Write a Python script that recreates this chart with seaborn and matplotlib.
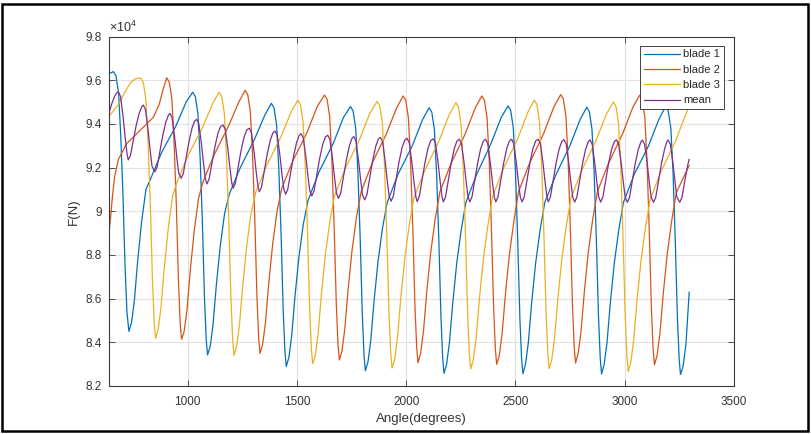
import matplotlib
matplotlib.use("Agg")
import matplotlib.pyplot as plt
import pandas as pd
import seaborn as sns
from matplotlib.patches import Rectangle
from matplotlib.ticker import FormatStrFormatter

# Rotor blade loads (x 1e4 N) against rotor angle in degrees
blade1_angle = [640, 660, 672, 684, 694, 704, 713, 722,
    731, 743, 756, 771, 789, 809, 831, 881, 946, 993, 1023, 1035, 1047, 1057, 1067, 1077, 1085,
    1091, 1103, 1116, 1131, 1149, 1169, 1191, 1241, 1306, 1353, 1383, 1395, 1407, 1417, 1427, 1437, 1445,
    1451, 1463, 1476, 1491, 1509, 1529, 1551, 1601, 1666, 1713, 1745, 1757, 1769, 1779, 1789, 1799, 1807,
    1813, 1825, 1838, 1853, 1871, 1891, 1913, 1963, 2028, 2075, 2105, 2117, 2129, 2139, 2149, 2159, 2167,
    2173, 2185, 2198, 2213, 2231, 2251, 2273, 2323, 2388, 2435, 2466, 2478, 2490, 2500, 2510, 2520, 2528,
    2534, 2546, 2559, 2574, 2592, 2612, 2634, 2684, 2749, 2796, 2826, 2838, 2850, 2860, 2870, 2880, 2888,
    2894, 2906, 2919, 2934, 2952, 2972, 2994, 3044, 3109, 3156, 3187, 3199, 3211, 3221, 3231, 3241, 3249,
    3255, 3267, 3280, 3295]
blade1_force = [9.630, 9.639, 9.62, 9.54, 9.34, 9.07, 8.76, 8.54,
    8.45, 8.49, 8.59, 8.77, 8.95, 9.10, 9.15, 9.27, 9.39, 9.50, 9.545, 9.525, 9.445, 9.245, 8.96, 8.60, 8.41,
    8.342, 8.38, 8.48, 8.66, 8.84, 8.99, 9.08, 9.20, 9.33, 9.44, 9.494, 9.474, 9.394, 9.194, 8.91, 8.55, 8.36,
    8.289, 8.33, 8.43, 8.61, 8.79, 8.94, 9.05, 9.18, 9.31, 9.43, 9.479, 9.459, 9.379, 9.179, 8.89, 8.53, 8.34,
    8.27, 8.31, 8.41, 8.59, 8.77, 8.92, 9.04, 9.17, 9.30, 9.42, 9.474, 9.454, 9.374, 9.174, 8.878, 8.518, 8.328,
    8.258, 8.30, 8.40, 8.58, 8.76, 8.91, 9.04, 9.17, 9.31, 9.43, 9.482, 9.462, 9.382, 9.182, 8.876, 8.516, 8.326,
    8.256, 8.30, 8.40, 8.58, 8.76, 8.91, 9.04, 9.165, 9.30, 9.42, 9.476, 9.456, 9.376, 9.176, 8.875, 8.515, 8.325,
    8.255, 8.30, 8.40, 8.58, 8.76, 8.91, 9.04, 9.17, 9.30, 9.42, 9.48, 9.46, 9.38, 9.18, 8.873, 8.513, 8.323,
    8.253, 8.29, 8.39, 8.63]

blade2_angle = [640, 648, 656, 666, 682, 721, 782, 843, 870, 888, 904, 916, 928, 938, 948, 958, 966,
    972, 984, 997, 1012, 1030, 1050, 1072, 1122, 1187, 1234, 1263, 1275, 1287, 1297, 1307, 1317, 1325,
    1331, 1343, 1356, 1371, 1389, 1409, 1431, 1481, 1546, 1593, 1626, 1638, 1650, 1660, 1670, 1680, 1688,
    1694, 1706, 1719, 1734, 1752, 1772, 1794, 1844, 1909, 1956, 1986, 1998, 2010, 2020, 2030, 2040, 2048,
    2054, 2066, 2079, 2094, 2112, 2132, 2154, 2204, 2269, 2316, 2346, 2358, 2370, 2380, 2390, 2400, 2408,
    2414, 2426, 2439, 2454, 2472, 2492, 2514, 2564, 2629, 2676, 2707, 2719, 2731, 2741, 2751, 2761, 2769,
    2775, 2787, 2800, 2815, 2833, 2853, 2875, 2925, 2990, 3037, 3068, 3080, 3092, 3102, 3112, 3122, 3130,
    3136, 3148, 3161, 3176, 3194, 3214, 3236, 3295]
blade2_force = [8.90, 8.98, 9.07, 9.16, 9.235, 9.31, 9.37, 9.43, 9.49, 9.56, 9.611, 9.591, 9.511, 9.311, 9.034, 8.674, 8.484,
    8.414, 8.45, 8.55, 8.73, 8.91, 9.06, 9.14, 9.26, 9.39, 9.50, 9.554, 9.534, 9.454, 9.254, 8.969, 8.609, 8.419,
    8.349, 8.39, 8.49, 8.67, 8.85, 9.00, 9.106, 9.23, 9.36, 9.48, 9.532, 9.512, 9.432, 9.232, 8.939, 8.579, 8.389,
    8.319, 8.36, 8.46, 8.64, 8.82, 8.97, 9.09, 9.22, 9.354, 9.473, 9.528, 9.508, 9.428, 9.228, 8.926, 8.566, 8.376,
    8.306, 8.35, 8.45, 8.63, 8.81, 8.96, 9.088, 9.216, 9.352, 9.473, 9.528, 9.508, 9.428, 9.228, 8.919, 8.559, 8.369,
    8.299, 8.34, 8.44, 8.62, 8.80, 8.95, 9.089, 9.219, 9.356, 9.478, 9.534, 9.514, 9.434, 9.234, 8.925, 8.565, 8.375,
    8.305, 8.35, 8.45, 8.63, 8.81, 8.96, 9.09, 9.218, 9.354, 9.476, 9.531, 9.511, 9.431, 9.231, 8.917, 8.557, 8.367,
    8.297, 8.34, 8.44, 8.62, 8.80, 8.95, 9.085, 9.21]

blade3_angle = [640, 665, 690, 715, 740, 762, 785, 797, 809, 819, 829, 839, 847,
    853, 865, 878, 893, 911, 931, 953, 1003, 1068, 1115, 1144, 1156, 1168, 1178, 1188, 1198, 1206,
    1212, 1224, 1237, 1252, 1270, 1290, 1312, 1362, 1427, 1474, 1504, 1516, 1528, 1538, 1548, 1558, 1566,
    1572, 1584, 1597, 1612, 1630, 1650, 1672, 1722, 1787, 1834, 1867, 1879, 1891, 1901, 1911, 1921, 1929,
    1935, 1947, 1960, 1975, 1993, 2013, 2035, 2085, 2150, 2197, 2227, 2239, 2251, 2261, 2271, 2281, 2289,
    2295, 2307, 2320, 2335, 2353, 2373, 2395, 2445, 2510, 2557, 2586, 2598, 2610, 2620, 2630, 2640, 2648,
    2654, 2666, 2679, 2694, 2712, 2732, 2754, 2804, 2869, 2916, 2948, 2960, 2972, 2982, 2992, 3002, 3010,
    3016, 3028, 3041, 3056, 3074, 3094, 3116, 3166, 3231, 3278, 3295]
blade3_force = [9.435, 9.465, 9.50, 9.55, 9.59, 9.607, 9.61, 9.59, 9.51, 9.31, 9.038, 8.678, 8.488,
    8.418, 8.46, 8.56, 8.74, 8.92, 9.07, 9.139, 9.258, 9.383, 9.494, 9.545, 9.525, 9.445, 9.245, 8.96, 8.60, 8.41,
    8.34, 8.38, 8.48, 8.66, 8.84, 8.99, 9.088, 9.211, 9.341, 9.456, 9.509, 9.489, 9.409, 9.209, 8.922, 8.562, 8.372,
    8.302, 8.34, 8.44, 8.62, 8.80, 8.95, 9.071, 9.197, 9.33, 9.449, 9.503, 9.483, 9.403, 9.203, 8.902, 8.542, 8.352,
    8.282, 8.32, 8.42, 8.60, 8.78, 8.93, 9.06, 9.187, 9.322, 9.442, 9.497, 9.477, 9.397, 9.197, 8.898, 8.538, 8.348,
    8.278, 8.32, 8.42, 8.60, 8.78, 8.93, 9.066, 9.195, 9.332, 9.454, 9.509, 9.489, 9.409, 9.209, 8.899, 8.539, 8.349,
    8.279, 8.32, 8.42, 8.60, 8.78, 8.93, 9.06, 9.189, 9.324, 9.445, 9.50, 9.48, 9.40, 9.20, 8.886, 8.526, 8.336,
    8.266, 8.31, 8.41, 8.59, 8.77, 8.92, 9.053, 9.182, 9.318, 9.44, 9.48]

mean_angle = [640, 652, 665, 675, 683, 693, 705, 715, 723,
    728, 738, 750, 764, 778, 790, 797, 807, 819, 829, 837,
    850, 860, 872, 886, 900, 912, 919, 929, 941, 951, 959,
    970, 980, 992, 1006, 1020, 1032, 1041, 1051, 1063, 1073, 1081,
    1088, 1098, 1110, 1124, 1138, 1150, 1162, 1172, 1184, 1194, 1202,
    1208, 1218, 1230, 1244, 1258, 1270, 1282, 1292, 1304, 1314, 1322,
    1328, 1338, 1350, 1364, 1378, 1390, 1400, 1410, 1422, 1432, 1440,
    1448, 1458, 1470, 1484, 1498, 1510, 1519, 1529, 1541, 1551, 1559,
    1568, 1578, 1590, 1604, 1618, 1630, 1641, 1651, 1663, 1673, 1681,
    1690, 1700, 1712, 1726, 1740, 1752, 1760, 1770, 1782, 1792, 1800,
    1810, 1820, 1832, 1846, 1860, 1872, 1882, 1892, 1904, 1914, 1922,
    1931, 1941, 1953, 1967, 1981, 1993, 2004, 2014, 2026, 2036, 2044,
    2050, 2060, 2072, 2086, 2100, 2112, 2124, 2134, 2146, 2156, 2164,
    2170, 2180, 2192, 2206, 2220, 2232, 2243, 2253, 2265, 2275, 2283,
    2291, 2301, 2313, 2327, 2341, 2353, 2363, 2373, 2385, 2395, 2403,
    2410, 2420, 2432, 2446, 2460, 2472, 2482, 2492, 2504, 2514, 2522,
    2530, 2540, 2552, 2566, 2580, 2592, 2604, 2614, 2626, 2636, 2644,
    2650, 2660, 2672, 2686, 2700, 2712, 2722, 2732, 2744, 2754, 2762,
    2771, 2781, 2793, 2807, 2821, 2833, 2841, 2851, 2863, 2873, 2881,
    2890, 2900, 2912, 2926, 2940, 2952, 2962, 2972, 2984, 2994, 3002,
    3012, 3022, 3034, 3048, 3062, 3074, 3081, 3091, 3103, 3113, 3121,
    3132, 3142, 3154, 3168, 3182, 3192, 3199, 3209, 3221, 3231, 3239,
    3252, 3262, 3274, 3288, 3295]
mean_force = [9.45, 9.49, 9.525, 9.542, 9.547, 9.525, 9.428, 9.329, 9.26,
    9.235, 9.255, 9.318, 9.391, 9.448, 9.478, 9.486, 9.465, 9.37, 9.273, 9.205,
    9.181, 9.202, 9.269, 9.347, 9.408, 9.44, 9.448, 9.427, 9.335, 9.24, 9.175,
    9.151, 9.173, 9.24, 9.318, 9.381, 9.413, 9.421, 9.4, 9.309, 9.214, 9.149,
    9.125, 9.147, 9.214, 9.292, 9.355, 9.387, 9.395, 9.375, 9.285, 9.192, 9.128,
    9.105, 9.127, 9.196, 9.276, 9.339, 9.372, 9.38, 9.36, 9.27, 9.176, 9.112,
    9.089, 9.111, 9.181, 9.261, 9.325, 9.359, 9.367, 9.347, 9.257, 9.165, 9.101,
    9.078, 9.1, 9.169, 9.25, 9.313, 9.347, 9.355, 9.335, 9.247, 9.156, 9.093,
    9.07, 9.092, 9.162, 9.242, 9.306, 9.34, 9.348, 9.328, 9.238, 9.146, 9.082,
    9.059, 9.082, 9.152, 9.234, 9.3, 9.334, 9.342, 9.322, 9.232, 9.139, 9.075,
    9.052, 9.075, 9.146, 9.229, 9.295, 9.33, 9.338, 9.318, 9.227, 9.134, 9.069,
    9.046, 9.069, 9.141, 9.225, 9.291, 9.325, 9.334, 9.314, 9.224, 9.131, 9.067,
    9.044, 9.067, 9.139, 9.223, 9.289, 9.323, 9.332, 9.312, 9.222, 9.13, 9.066,
    9.043, 9.066, 9.138, 9.221, 9.287, 9.321, 9.33, 9.31, 9.221, 9.129, 9.066,
    9.043, 9.066, 9.138, 9.221, 9.287, 9.321, 9.33, 9.31, 9.221, 9.129, 9.066,
    9.043, 9.066, 9.138, 9.221, 9.287, 9.321, 9.33, 9.31, 9.221, 9.129, 9.066,
    9.043, 9.066, 9.138, 9.221, 9.287, 9.321, 9.33, 9.31, 9.221, 9.129, 9.066,
    9.043, 9.066, 9.138, 9.221, 9.286, 9.319, 9.328, 9.308, 9.219, 9.128, 9.065,
    9.042, 9.065, 9.136, 9.219, 9.284, 9.318, 9.327, 9.307, 9.219, 9.128, 9.065,
    9.042, 9.065, 9.136, 9.219, 9.284, 9.318, 9.327, 9.307, 9.219, 9.128, 9.065,
    9.041, 9.064, 9.135, 9.218, 9.283, 9.317, 9.326, 9.306, 9.218, 9.127, 9.064,
    9.041, 9.064, 9.135, 9.218, 9.283, 9.317, 9.326, 9.306, 9.218, 9.127, 9.064,
    9.041, 9.064, 9.135, 9.21, 9.238]

series_names = ["blade 1", "blade 2", "blade 3", "mean"]
series_colors = ["#0072BD", "#D95319", "#EDB120", "#7E2F8E"]
x_ticks = [1000, 1500, 2000, 2500, 3000, 3500]
y_ticks = [8.2, 8.4, 8.6, 8.8, 9.0, 9.2, 9.4, 9.6, 9.8]

frames = []
for name, ang, frc in zip(series_names,
                          [blade1_angle, blade2_angle, blade3_angle, mean_angle],
                          [blade1_force, blade2_force, blade3_force, mean_force]):
    frames.append(pd.DataFrame({"angle": ang, "force": frc, "series": name}))
df = pd.concat(frames, ignore_index=True)

sns.set_theme(style="ticks")
plt.rcParams["font.family"] = ["Liberation Sans", "DejaVu Sans"]
plt.rcParams["mathtext.fontset"] = "custom"
plt.rcParams["mathtext.rm"] = "Liberation Sans"
plt.rcParams["mathtext.default"] = "regular"

text_color = "#333333"

fig = plt.figure(figsize=(8.12, 4.34), dpi=100)
ax = fig.add_axes([109 / 812, 1 - 386 / 434, 625 / 812, 349.5 / 434])

sns.lineplot(data=df, x="angle", y="force", hue="series", hue_order=series_names,
             palette=dict(zip(series_names, series_colors)), estimator=None,
             sort=False, linewidth=0.9, legend=False, ax=ax)

ax.set_xlim(640, 3500)
ax.set_ylim(8.2, 9.8)
ax.set_xticks(x_ticks)
ax.set_yticks(y_ticks)
ax.yaxis.set_major_formatter(FormatStrFormatter("%g"))
ax.grid(True, color="#e2e2e2", linewidth=0.8)
ax.set_axisbelow(True)
for sp in ax.spines.values():
    sp.set_visible(True)
    sp.set_color("#3a3a3a")
    sp.set_linewidth(0.8)
ax.tick_params(direction="in", length=4, width=0.6, top=True, right=True,
               labelsize=8.5, colors=text_color)
ax.tick_params(axis="x", pad=7)
ax.tick_params(axis="y", pad=5)

ax.set_xlabel("Angle(degrees)", fontsize=9.5, color=text_color, labelpad=4)
ax.set_ylabel("F(N)", fontsize=9.5, color=text_color, labelpad=4)
ax.text(0.0, 1.003, r"$\times10^{4}$", transform=ax.transAxes, ha="left",
        va="bottom", fontsize=9, color=text_color)

lines = ax.get_lines()[:4]
leg = ax.legend(lines, series_names, loc="upper right", bbox_to_anchor=(0.984, 0.974),
                borderaxespad=0, fontsize=8, frameon=True, fancybox=False,
                framealpha=1, edgecolor="#262626", handlelength=3.2,
                handletextpad=0.3, labelspacing=0.48, borderpad=0.35)
leg.get_frame().set_linewidth(0.6)

fig.add_artist(Rectangle((2.5 / 812, 3.5 / 434), 806 / 812, 427 / 434,
                         transform=fig.transFigure, fill=False,
                         edgecolor="black", linewidth=1.8))

fig.savefig("out.png", dpi=100)
